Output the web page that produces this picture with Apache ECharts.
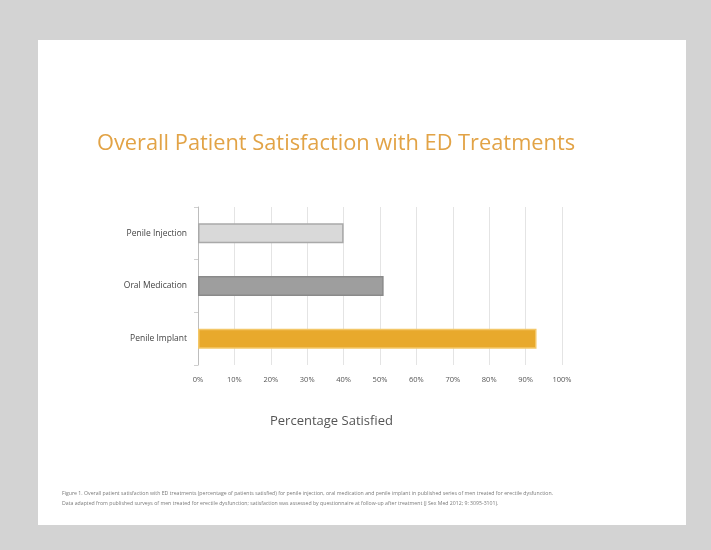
<!DOCTYPE html>
<html><head><meta charset="utf-8">
<script src="https://cdn.jsdelivr.net/npm/echarts@6/dist/echarts.min.js"></script>
<style>html,body{margin:0;padding:0;background:#d3d3d3}#c{width:711px;height:550px}</style>
</head><body><div id="c"></div>
<script>
const categories = ['Penile Injection', 'Oral Medication', 'Penile Implant'];
const satisfied = [40, 51, 93];
const barColors = ['#d9d9d9', '#9e9e9e', '#e8a92c'];
const barBorders = ['#a9a9a9', '#8a8a8a', '#f3c768'];
const tickLabels = ['0%','10%','20%','30%','40%','50%','60%','70%','80%','90%','100%'];

const chart = echarts.init(document.getElementById('c'));
chart.setOption({
  animation: false,
  backgroundColor: '#d3d3d3',
  graphic: [
    {type:'rect', shape:{x:38,y:40,width:648,height:485}, style:{fill:'#ffffff'}, z:-10},
    {type:'text', left:97, top:133, style:{text:'Overall Patient Satisfaction with ED Treatments', fill:'#e2a346', font:'21.8px "Open Sans", sans-serif'}},
    {type:'text', left:270, top:415, style:{text:'Percentage Satisfied', fill:'#555555', font:'13px "Open Sans", sans-serif'}},
    {type:'text', left:62, top:489, style:{text:'Figure 1. Overall patient satisfaction with ED treatments (percentage of patients satisfied) for penile injection, oral medication and penile implant in published series of men treated for erectile dysfunction.\nData adapted from published surveys of men treated for erectile dysfunction; satisfaction was assessed by questionnaire at follow-up after treatment (J Sex Med 2012; 9: 3095-3101).', fill:'#7a7a7a', font:'5.2px "Open Sans", sans-serif', lineHeight:10}}
  ],
  grid: {left:198, right:149, top:207, height:158, containLabel:false},
  xAxis: {
    type:'value', min:0, max:100, interval:10,
    axisLabel:{formatter:(v)=>tickLabels[Math.round(v/10)], color:'#555', fontSize:7.5, fontFamily:'Open Sans', margin:11},
    axisLine:{show:false}, axisTick:{show:false},
    splitLine:{show:true, lineStyle:{color:'#e4e4e4', width:1}}
  },
  yAxis: {
    type:'category', data:categories, inverse:true,
    axisLabel:{color:'#444', fontSize:8.5, fontFamily:'Open Sans', margin:11},
    axisLine:{show:true, lineStyle:{color:'#bdbdbd'}},
    axisTick:{show:true, length:4, lineStyle:{color:'#d0d0d0'}}
  },
  series: [{
    type:'bar', barWidth:20,
    data: satisfied.map((v,i)=>({value:v, itemStyle:{color:barColors[i], borderColor:barBorders[i], borderWidth:1.5}}))
  }]
});
</script></body></html>
